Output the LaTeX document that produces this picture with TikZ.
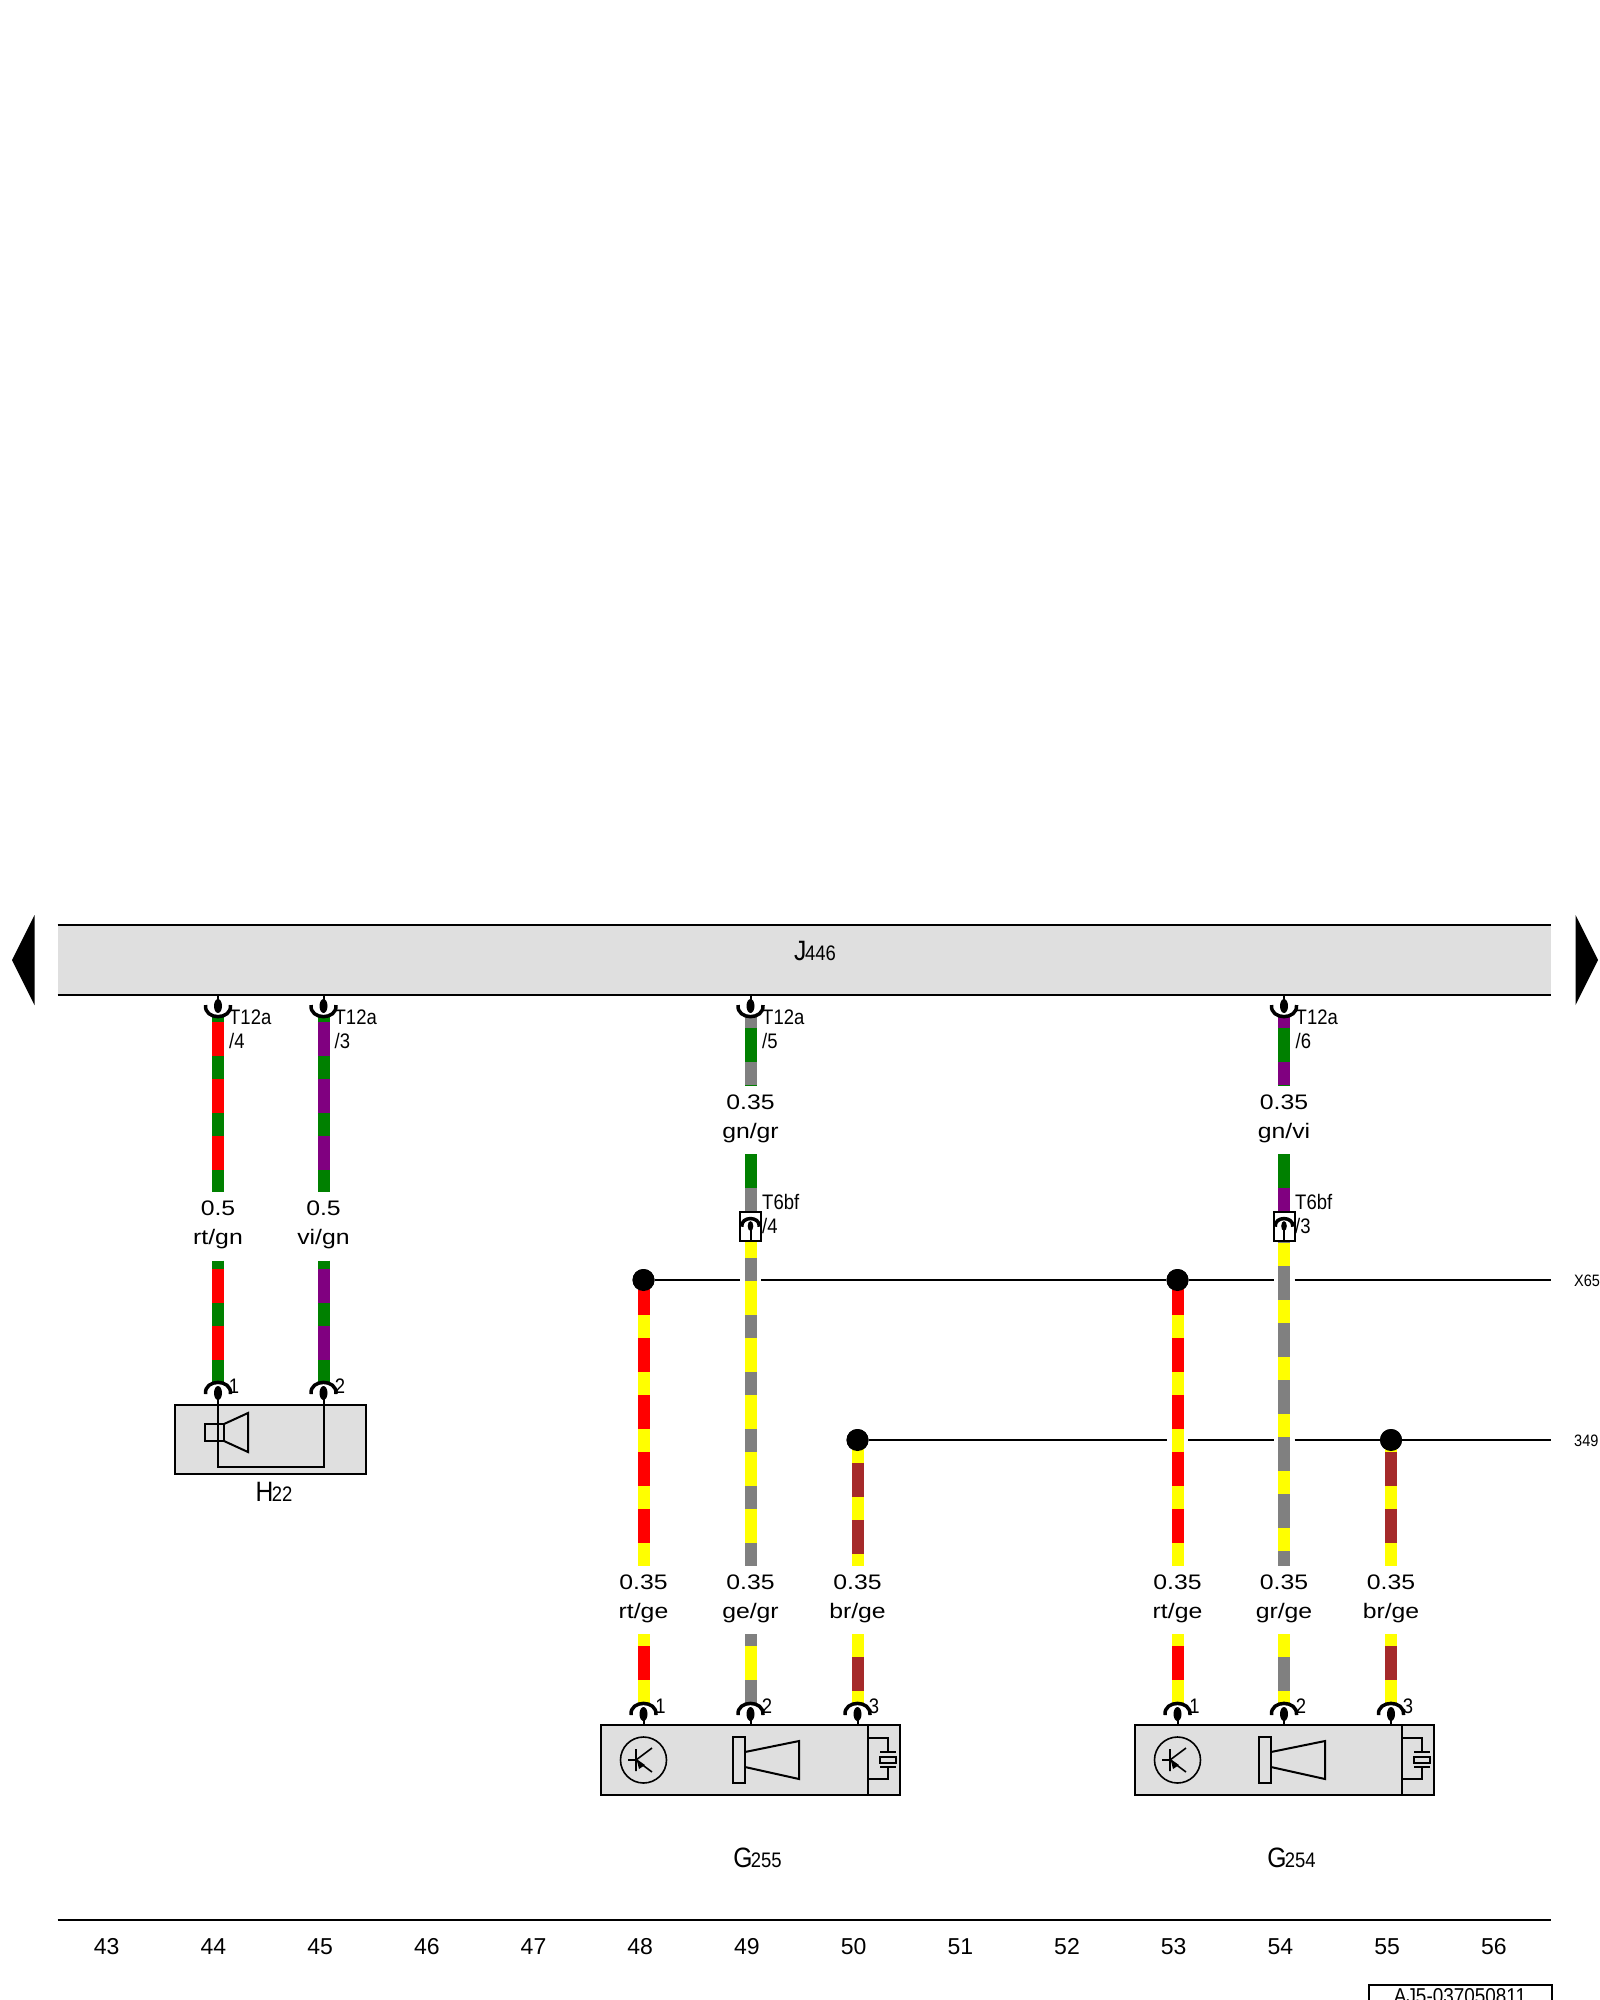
\documentclass[tikz,border=0pt]{standalone}
\usepackage{fontspec}
\setmainfont{Liberation Sans}
\newfontfamily\nfont[FakeStretch=0.88]{Liberation Sans}
\newfontfamily\wfont[FakeStretch=1.18]{Liberation Sans}
\definecolor{wred}{RGB}{255,0,0}
\definecolor{wgreen}{RGB}{0,128,0}
\definecolor{wviolet}{RGB}{128,0,128}
\definecolor{wgrey}{RGB}{128,128,128}
\definecolor{wyellow}{RGB}{255,255,0}
\definecolor{wbrown}{RGB}{165,42,42}
\definecolor{boxgrey}{RGB}{223,223,223}
\tikzset{
  wireline/.style={line width=12pt},
  busline/.style={line width=2pt},
  part/.style={draw, line width=2pt, fill=boxgrey, inner sep=0pt},
  thin part/.style={line width=1.6pt},
  wirelabel/.style={inner sep=0pt, minimum height=68pt, align=center, text depth=7pt, font=\wfont\fontsize{21}{29}\selectfont},
  pinlabel/.style={inner sep=0pt, align=left, font=\nfont\fontsize{21}{24}\selectfont},
  dotnode/.style={circle, fill=black, inner sep=0pt, minimum size=22pt},
}
% #1 from, #2 to, #3 first colour, #4 second colour, #5 phase
\newcommand{\wire}[5]{
  \draw [wireline, #4] (#1) -- (#2);
  \draw [wireline, #3, dash pattern=on 34pt off 23pt, dash phase=#5pt] (#1) -- (#2);
}
% #1 scale, #2 point, #3 side (1 down, -1 up)
\newcommand{\pin}[3][1]{
  \begin{scope}[shift={(#2)}, yscale=#3, scale=#1]
  \draw [line width=3.5pt, fill=white] (-12.5,-1) .. controls (-14,14.5) and (14,14.5) .. (12.5,-1);
  \fill (0,0) ellipse (4 and 7);
  \draw [line width=2pt] (0,0) -- (0,-11);
  \end{scope}
}
\newcommand{\code}[3]{{\nfont\fontsize{#1}{#1}\selectfont #2\kern-1.5pt\fontsize{21}{21}\selectfont #3}}
\begin{document}
\begin{tikzpicture}[x=1pt, y=-1pt]
\useasboundingbox (0,0) rectangle (1600,2000);
%%%%%%%%% header
\node [fill=boxgrey, inner sep=0pt, minimum width=1493pt, minimum height=70pt] (j446) at (804.25,960) {};
\draw [busline] (j446.north west) -- (j446.north east);
\draw [busline] (j446.south west) -- (j446.south east);
\node [inner sep=0pt, anchor=base] (j446t) at (815,960) {\code{28}{J}{446}};
\fill (34.5,915) -- (12,960) -- (34.5,1005) -- cycle;
\fill (1575.5,915) -- (1598,960) -- (1575.5,1005) -- cycle;
%%%%%%%%% pins
\coordinate (pa44) at (218,1006);
\coordinate (pa45) at (323.5,1006);
\coordinate (pa49) at (750.5,1006);
\coordinate (pa54) at (1284,1006);
\coordinate (pb44) at (218,1393);
\coordinate (pb45) at (323.5,1393);
\coordinate (p48) at (643.5,1714);
\coordinate (p49) at (750.5,1714);
\coordinate (p50) at (857.5,1714);
\coordinate (p53) at (1177.5,1714);
\coordinate (p54) at (1284,1714);
\coordinate (p55) at (1391,1714);
%%%%%%%%% wire labels
\node [wirelabel] (l44) at (218,1226.5) {0.5\\rt/gn};
\node [wirelabel] (l45) at (323.5,1226.5) {0.5\\vi/gn};
\node [wirelabel] (u49) at (750.5,1120) {0.35\\gn/gr};
\node [wirelabel] (u54) at (1284,1120) {0.35\\gn/vi};
\node [wirelabel] (l48) at (643.5,1600) {0.35\\rt/ge};
\node [wirelabel] (l49) at (750.5,1600) {0.35\\ge/gr};
\node [wirelabel] (l50) at (857.5,1600) {0.35\\br/ge};
\node [wirelabel] (l53) at (1177.5,1600) {0.35\\rt/ge};
\node [wirelabel] (l54) at (1284,1600) {0.35\\gr/ge};
\node [wirelabel] (l55) at (1391,1600) {0.35\\br/ge};
%%%%%%%%% T6bf housings
\node [draw, line width=2pt, fill=white, inner sep=0pt, minimum width=21pt, minimum height=29pt] (t49) at (750.5,1226.5) {};
\node [draw, line width=2pt, fill=white, inner sep=0pt, minimum width=21pt, minimum height=29pt] (t54) at (1284,1226.5) {};
%%%%%%%%% splice points and bus lines
\node [dotnode] (d48) at (643.5,1280) {};
\node [dotnode] (d53) at (1177.5,1280) {};
\node [dotnode] (d50) at (857.5,1440) {};
\node [dotnode] (d55) at (1391,1440) {};
\coordinate (e65) at (1551,1280);
\coordinate (e349) at (1551,1440);
\draw [busline] (d48) -- (740,1280) (761,1280) -- (d53) -- (1273.5,1280) (1294.5,1280) -- (e65);
\draw [busline] (d50) -- (1167,1440) (1188,1440) -- (1273.5,1440) (1294.5,1440) -- (d55) -- (e349);
\node [inner sep=0pt, anchor=west, font=\nfont\fontsize{16.5}{16.5}\selectfont] (x65) at (1574,1281) {X65};
\node [inner sep=0pt, anchor=west, font=\nfont\fontsize{16.5}{16.5}\selectfont] (x349) at (1574,1441) {349};
%%%%%%%%% wires
\wire{pa44}{l44.north}{wred}{wgreen}{41}
\wire{l44.south}{pb44}{wred}{wgreen}{49}
\wire{pa45}{l45.north}{wviolet}{wgreen}{41}
\wire{l45.south}{pb45}{wviolet}{wgreen}{49}
\wire{pa49}{u49.north}{wgreen}{wgrey}{35}
\wire{u49.south}{t49.north}{wgreen}{wgrey}{0}
\wire{t49.south}{l49.north}{wyellow}{wgrey}{18}
\wire{l49.south}{p49}{wyellow}{wgrey}{45}
\wire{pa54}{u54.north}{wgreen}{wviolet}{35}
\wire{u54.south}{t54.north}{wgreen}{wviolet}{0}
\wire{t54.south}{l54.north}{wgrey}{wyellow}{33}
\wire{l54.south}{p54}{wgrey}{wyellow}{34}
\wire{d48.center}{l48.north}{wred}{wyellow}{56}
\wire{l48.south}{p48}{wred}{wyellow}{45}
\wire{d50.center}{l50.north}{wbrown}{wyellow}{34}
\wire{l50.south}{p50}{wbrown}{wyellow}{34}
\wire{d53.center}{l53.north}{wred}{wyellow}{56}
\wire{l53.south}{p53}{wred}{wyellow}{45}
\wire{d55.center}{l55.north}{wbrown}{wyellow}{45}
\wire{l55.south}{p55}{wbrown}{wyellow}{45}
\node [dotnode] at (d48) {};
\node [dotnode] at (d53) {};
\node [dotnode] at (d50) {};
\node [dotnode] at (d55) {};
%%%%%%%%% H22
\node [part, minimum width=191pt, minimum height=69pt] (h22) at (270.5,1439.5) {};
\draw [busline] (pb44) -- (218,1467) -- (323.5,1467) -- (pb45);
\draw [busline] (205,1424) rectangle (224,1441);
\draw [busline] (224,1424) -- (248,1413) -- (248,1452) -- (224,1441);
\node [inner sep=0pt, anchor=base] (h22t) at (274,1501) {\code{28}{H}{22}};
%%%%%%%%% G255 and G254
\foreach \dx/\nm/\hx in {0/255/0, 534/254/-8} {
\begin{scope}[xshift=\dx pt]
\node [part, minimum width=299pt, minimum height=70pt] (g\nm) at (750.5,1760) {};
\draw [busline] (868,1725) -- (868,1795);
\draw [thin part] (643.5,1760) circle (23);
\draw [thin part] (636,1749) -- (636,1771) (628,1760) -- (636,1760) -- (652,1748) (636,1760) -- (652,1772);
\fill (636.5,1759) -- (645,1765) -- (639,1769) -- cycle;
\begin{scope}[xshift=\hx pt]
\draw [busline] (733,1737) rectangle (745,1783);
\draw [busline] (745,1752) -- (799,1741) -- (799,1779) -- (745,1767);
\end{scope}
\draw [thin part] (868,1738) -- (888,1738) -- (888,1752) (880,1752) -- (896,1752);
\draw [thin part] (880,1757) rectangle (896,1763);
\draw [thin part] (880,1767) -- (896,1767) (888,1767) -- (888,1779) -- (868,1779);
\node [inner sep=0pt, anchor=base] (g\nm t) at (757.5,1867) {\code{28}{G}{\nm}};
\end{scope}
}
%%%%%%%%% pin symbols and their labels
\pin{pa44}{1}
\pin{pa45}{1}
\pin{pa49}{1}
\pin{pa54}{1}
\pin{pb44}{-1}
\pin{pb45}{-1}
\pin{p48}{-1}
\pin{p49}{-1}
\pin{p50}{-1}
\pin{p53}{-1}
\pin{p54}{-1}
\pin{p55}{-1}
\coordinate (c49) at (750.5,1226);
\coordinate (c54) at (1284,1226);
\pin[.7]{c49}{-1}
\pin[.7]{c54}{-1}
\draw [busline] (c49) -- (t49.south);
\draw [busline] (c54) -- (t54.south);
\node [pinlabel, anchor=west] (n44) at (229,1029) {T12a\\/4};
\node [pinlabel, anchor=west] (n45) at (334.5,1029) {T12a\\/3};
\node [pinlabel, anchor=west] (n49) at (762,1029) {T12a\\/5};
\node [pinlabel, anchor=west] (n54) at (1295.5,1029) {T12a\\/6};
\node [pinlabel, anchor=west] (m49) at (762,1214) {T6bf\\/4};
\node [pinlabel, anchor=west] (m54) at (1295,1214) {T6bf\\/3};
\node [pinlabel] (q44) at (234,1386) {1};
\node [pinlabel] (q45) at (340,1386) {2};
\node [pinlabel] (q48) at (660.5,1706.5) {1};
\node [pinlabel] (q49) at (767,1706.5) {2};
\node [pinlabel] (q50) at (874,1706.5) {3};
\node [pinlabel] (q53) at (1194.5,1706.5) {1};
\node [pinlabel] (q54) at (1301,1706.5) {2};
\node [pinlabel] (q55) at (1408,1706.5) {3};
%%%%%%%%% bottom ruler
\coordinate (r0) at (57.7,1920);
\coordinate (r1) at (1551,1920);
\draw [busline] (r0) -- (r1);
\foreach \n [count=\i from 0] in {43,...,56} {
  \node [inner sep=0pt, font=\fontsize{23}{23}\selectfont] (c\n) at (106.7+106.7*\i,1946.5) {\n};
}
\node [draw, line width=2pt, inner sep=0pt, minimum width=183pt, minimum height=40pt, anchor=north west] (sheet) at (1368,1984) {};
\node [inner sep=0pt, anchor=base, font=\nfont\fontsize{21.5}{21.5}\selectfont] (sheett) at (1460,2003) {AJ5-037050811};
\end{tikzpicture}
\end{document}
